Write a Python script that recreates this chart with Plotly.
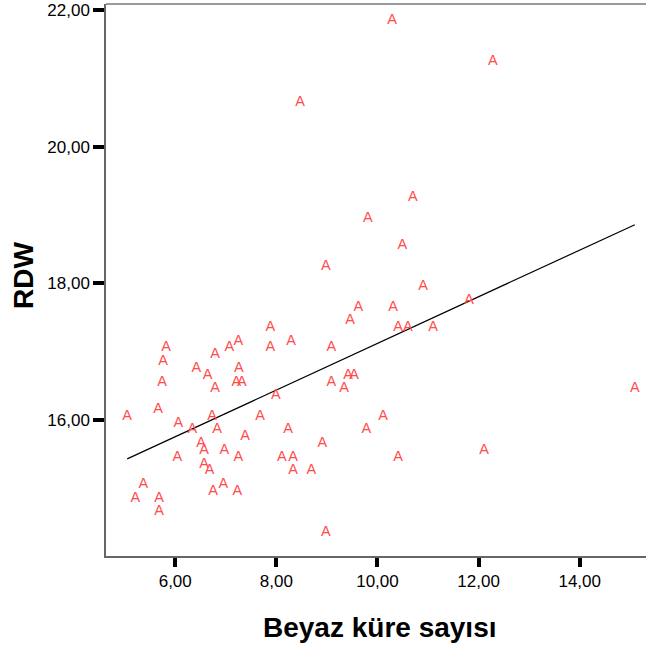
import plotly.graph_objects as go

# Data
wbc = [10.29, 12.28, 8.47, 10.70, 9.81, 10.49, 8.98, 10.90, 11.81, 9.62,
       10.31, 9.46, 10.41, 10.60, 11.10, 7.88, 7.25, 8.29, 5.82, 7.07,
       7.88, 9.09, 6.79, 5.76, 6.42, 7.26, 6.64, 9.42, 9.54, 5.74,
       7.21, 7.32, 9.09, 6.79, 9.34, 15.09, 7.99, 5.66, 5.05, 6.73,
       7.68, 10.11, 6.06, 6.34, 7.38, 8.23, 9.78, 6.83, 6.51, 8.91,
       6.57, 6.97, 12.11, 6.04, 7.25, 8.11, 8.33, 10.41, 6.57, 6.68,
       8.33, 8.69, 5.37, 6.95, 6.75, 7.23, 5.21, 5.68, 5.68, 8.98]
rdw = [21.9, 21.3, 20.7, 19.3, 19.0, 18.6, 18.3, 18.0, 17.8, 17.7,
       17.7, 17.5, 17.4, 17.4, 17.4, 17.4, 17.2, 17.2, 17.1, 17.1,
       17.1, 17.1, 17.0, 16.9, 16.8, 16.8, 16.7, 16.7, 16.7, 16.6,
       16.6, 16.6, 16.6, 16.5, 16.5, 16.5, 16.4, 16.2, 16.1, 16.1,
       16.1, 16.1, 16.0, 15.9, 15.8, 15.9, 15.9, 15.9, 15.7, 15.7,
       15.6, 15.6, 15.6, 15.5, 15.5, 15.5, 15.5, 15.5, 15.4, 15.3,
       15.3, 15.3, 15.1, 15.1, 15.0, 15.0, 14.9, 14.9, 14.7, 14.4]

fit_x = [5.05, 15.09]
fit_y = [15.43, 18.86]

x_tickvals = [6, 8, 10, 12, 14]
x_ticktext = ["6,00", "8,00", "10,00", "12,00", "14,00"]
y_tickvals = [16, 18, 20, 22]
y_ticktext = ["16,00", "18,00", "20,00", "22,00"]

FONT = "Liberation Sans, Arial, sans-serif"
Y_RANGE = [14.008, 22.092]
# plotly draws a text glyph's cap centre ~3 px above its anchor; a hidden
# overlay axis shifted by that amount keeps the "A" glyphs centred on the data
GLYPH_SHIFT = 3 * (Y_RANGE[1] - Y_RANGE[0]) / 552

fig = go.Figure()
fig.add_trace(go.Scatter(
    x=wbc, y=rdw, mode="text", text=["A"] * len(wbc), yaxis="y2",
    textposition="middle center",
    textfont=dict(family=FONT, size=14.5, color="#ff4d4d"),
    hoverinfo="x+y", showlegend=False))
fig.add_trace(go.Scatter(
    x=fit_x, y=fit_y, mode="lines",
    line=dict(color="black", width=1.2), showlegend=False))

fig.update_layout(
    width=646, height=651,
    margin=dict(l=106, r=0, t=4, b=95),
    paper_bgcolor="white", plot_bgcolor="white",
    font=dict(family=FONT, color="black"),
    xaxis=dict(range=[4.631, 15.311], tickvals=x_tickvals, ticktext=x_ticktext,
               showgrid=False, zeroline=False, showline=True,
               linecolor="#666666", linewidth=1.5,
               ticks="outside", ticklen=9, tickwidth=3.5, tickcolor="black",
               tickfont=dict(size=17, family=FONT, color="black")),
    yaxis=dict(range=Y_RANGE, tickvals=y_tickvals, ticktext=y_ticktext,
               showgrid=False, zeroline=False, showline=True,
               linecolor="#666666", linewidth=1.5,
               ticks="outside", ticklen=11, tickwidth=3.5, tickcolor="black",
               tickfont=dict(size=17, family=FONT, color="black")),
    yaxis2=dict(range=[Y_RANGE[0] + GLYPH_SHIFT, Y_RANGE[1] + GLYPH_SHIFT],
                overlaying="y", visible=False),
    shapes=[dict(type="line", xref="paper", yref="paper", x0=0, x1=1, y0=1, y1=1,
                 line=dict(color="#999999", width=2))],
    annotations=[
        dict(text="<b>Beyaz küre sayısı</b>", xref="paper", yref="paper",
             x=(380 - 106) / 540, y=(556 - 627) / 552, xanchor="center", yanchor="middle",
             showarrow=False, font=dict(family=FONT, size=28, color="black")),
        dict(text="<b>RDW</b>", xref="paper", yref="paper",
             x=(23 - 106) / 540, y=(556 - 276) / 552, xanchor="center", yanchor="middle",
             textangle=-90, showarrow=False,
             font=dict(family=FONT, size=28, color="black")),
    ],
)

fig.write_html("out.html", config={"displayModeBar": False},
               post_script="document.body.style.margin='0';document.body.style.overflow='hidden';")
